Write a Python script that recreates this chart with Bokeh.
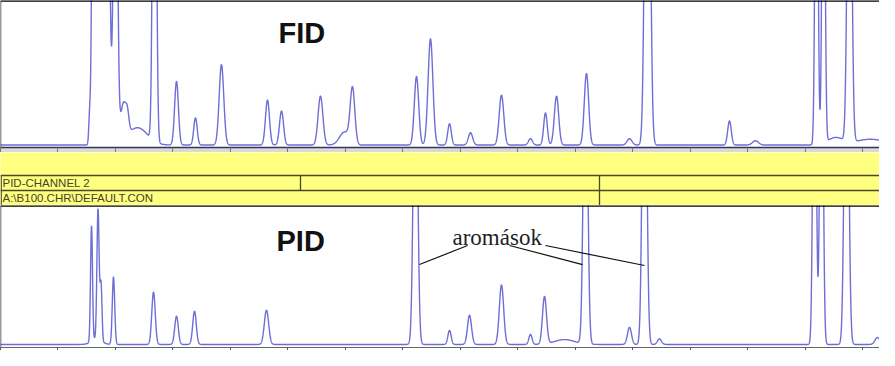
import numpy as np
from bokeh.plotting import figure
from bokeh.layouts import column
from bokeh.models import Range1d, Span, FixedTicker
from bokeh.core.properties import value
from bokeh.embed import file_html
from bokeh.resources import INLINE

# ---------------- data ----------------
# retention times in minutes, heights in % of full scale, sigma in minutes
fid_rt = [1.548, 1.739, 1.843, 2.000, 2.139, 2.209, 2.383, 2.678, 3.061, 3.391,
          3.843, 4.643, 4.887, 5.565, 5.983, 6.122, 7.235, 7.478, 7.809, 8.174,
          8.713, 9.217, 9.478, 9.670, 10.191, 10.939, 11.252, 12.678, 13.130,
          14.191, 14.313, 14.522, 14.765, 15.130]
fid_h = [15, 20000, 140, 300, 25, 9, 12, 400, 44.0, 18.8,
         55.6, 31.1, 23.5, 33.8, 9.0, 37.9, 47.4, 73.4, 14.7, 8.5,
         34.5, 4.4, 22.2, 33.8, 49.5, 4.4, 400, 16.7, 3.0,
         300, 300, 5, 300, 4]
fid_w = [0.014, 0.049, 0.052, 0.031, 0.052, 0.026, 0.174, 0.028, 0.033, 0.030,
         0.040, 0.035, 0.035, 0.042, 0.087, 0.040, 0.038, 0.042, 0.031, 0.038,
         0.040, 0.035, 0.031, 0.038, 0.038, 0.043, 0.040, 0.031, 0.052,
         0.024, 0.024, 0.139, 0.035, 0.261]

pid_rt = [1.583, 1.670, 1.696, 1.748, 1.965, 2.661, 3.061, 3.374, 4.626, 7.217,
          7.809, 8.157, 8.713, 9.217, 9.461, 9.809, 10.174, 10.939, 11.200,
          11.461, 14.157, 14.278, 14.713, 15.252]
pid_h = [83, 4, 93.5, 41, 48.6, 37.7, 20.3, 23.9, 24.6, 250,
         10.1, 21.0, 42.8, 7.2, 34.1, 3.5, 250, 12.3, 300,
         4, 300, 300, 300, 5]
pid_w = [0.017, 0.087, 0.019, 0.017, 0.021, 0.030, 0.031, 0.031, 0.038, 0.035,
         0.028, 0.035, 0.038, 0.028, 0.035, 0.174, 0.035, 0.035, 0.035,
         0.035, 0.027, 0.027, 0.035, 0.043]

aromatic_rt = [7.217, 10.174, 11.200]

fid_label = "FID"
pid_label = "PID"
arom_label = "aromások"
channel_text = "PID-CHANNEL 2"
file_text = "A:\\B100.CHR\\DEFAULT.CON"

# ---------------- styling / layout ----------------
W = 879
T_END = 15.287
TRACE = "#6e6ed6"

t = np.linspace(0, T_END, 7000)


def trace(rt, h, w):
    y = np.zeros_like(t)
    for c, a, s in zip(rt, h, w):
        y += a * np.exp(-0.5 * ((t - c) / s) ** 2)
    return y


def base_fig(height, border_fill, ymin, bottom, tick_out):
    p = figure(width=W, height=height, output_backend="svg", toolbar_location=None,
               x_range=Range1d(0, T_END), y_range=Range1d(ymin, 100),
               min_border_left=0, min_border_right=0, min_border_top=0,
               min_border_bottom=bottom, border_fill_color=border_fill,
               background_fill_color="white", outline_line_color=None)
    p.yaxis.visible = False
    p.xgrid.visible = False
    p.ygrid.visible = False
    ax = p.xaxis[0]
    ax.ticker = FixedTicker(ticks=[], minor_ticks=list(range(0, 16)))
    ax.major_label_standoff = 0
    ax.major_tick_in = 0
    ax.major_tick_out = tick_out
    ax.minor_tick_in = 0
    ax.minor_tick_out = tick_out
    p.add_layout(Span(location=100, dimension="width", line_color="black", line_width=2.5))
    p.add_layout(Span(location=0, dimension="height", line_color="#333344", line_width=1.5))
    return p


# FID panel
pf = base_fig(152, "#d9d9d9", -1.7, 5, 5)
pf.xaxis.axis_line_color = "#34345a"
pf.xaxis.axis_line_width = 1.5
pf.xaxis.minor_tick_line_color = "#777777"
pf.line(t, trace(fid_rt, fid_h, fid_w), line_color=TRACE, line_width=1.4)
pf.text(x=[4.835], y=[77.2], text=[fid_label], text_font=value("Liberation Sans"),
        text_font_size=value("29px"), text_font_style="bold", text_color="#111111",
        text_baseline="alphabetic", text_align="left")

# yellow info band
pb = figure(width=W, height=53, output_backend="svg", toolbar_location=None,
            x_range=Range1d(0, W), y_range=Range1d(53, 0),
            min_border_left=0, min_border_right=0, min_border_top=0, min_border_bottom=0,
            background_fill_color="#ffff80", border_fill_color="#ffff80",
            outline_line_color=None)
pb.axis.visible = False
pb.grid.visible = False
band_x0 = [0, 0, 0.7, 300, 599]
band_x1 = [W, W, 0.7, 300, 599]
band_y0 = [23, 38, 23, 23, 23]
band_y1 = [23, 38, 53, 38, 53]
pb.segment(x0=band_x0, y0=band_y0, x1=band_x1, y1=band_y1,
           line_color="#4a4a2a", line_width=1.3)
pb.text(x=[2, 2], y=[30.5, 45.5], text=[channel_text, file_text],
        text_font=value("Liberation Sans"), text_font_size=value("11.5px"),
        text_color="#44442a", text_baseline="middle", text_align="left")

# PID panel
pp = base_fig(145, "white", -2.2, 3, 3)
pp.xaxis.axis_line_color = "#666666"
pp.xaxis.minor_tick_line_color = "#555555"
pp.line(t, trace(pid_rt, pid_h, pid_w), line_color=TRACE, line_width=1.4)
pp.text(x=[4.80], y=[74.1], text=[pid_label], text_font=value("Liberation Sans"),
        text_font_size=value("29px"), text_font_style="bold", text_color="#111111",
        text_baseline="alphabetic", text_align="left")
pp.text(x=[7.861], y=[77.0], text=[arom_label], text_font=value("Liberation Serif"),
        text_font_size=value("23px"), text_color="#222222",
        text_baseline="alphabetic", text_align="left")
lead_x0 = [8.122, 8.852, 9.478]
lead_y0 = [71.2, 71.2, 71.2]
lead_dx = [0.07, -0.05, 0.0]
lead_y1 = [57.5, 57.5, 56.8]
lead_x1 = [r + d for r, d in zip(aromatic_rt, lead_dx)]
pp.segment(x0=lead_x0, y0=lead_y0, x1=lead_x1, y1=lead_y1,
           line_color="#111111", line_width=1.2)

layout = column(pf, pb, pp, spacing=0)
open("out.html", "w").write(file_html(layout, INLINE))
